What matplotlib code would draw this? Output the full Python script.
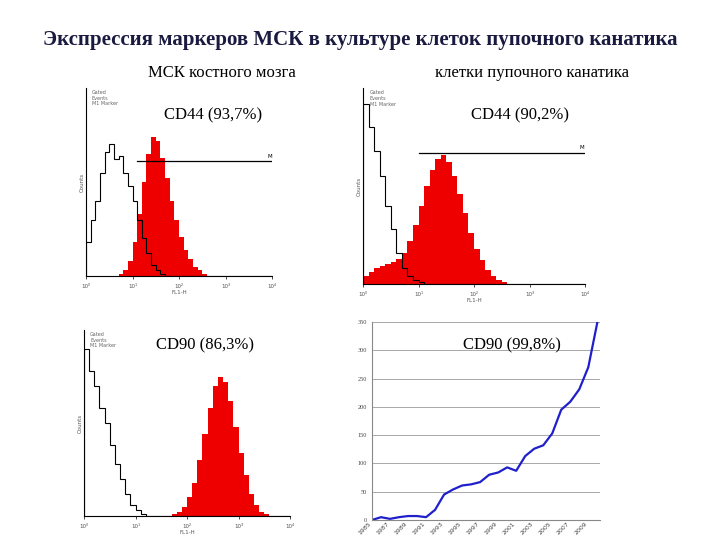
import matplotlib
matplotlib.use("Agg")
import matplotlib.pyplot as plt
import numpy as np

plt.rcParams["font.family"] = ["Liberation Serif", "DejaVu Serif"]

W, H = 720, 540

# histograms: bin heights per 0.1 decade over 10^0 .. 10^4 (40 bins)
tl_ctrl = [18, 30, 40, 55, 66, 70, 62, 64, 55, 48, 40, 30, 20, 12, 6, 3, 1, 0, 0, 0,
           0, 0, 0, 0, 0, 0, 0, 0, 0, 0, 0, 0, 0, 0, 0, 0, 0, 0, 0, 0]
tl_cd44 = [0, 0, 0, 0, 0, 0, 0, 1, 3, 8, 18, 33, 50, 65, 74, 72, 63, 52, 40, 30,
           21, 14, 9, 5, 3, 1, 0, 0, 0, 0, 0, 0, 0, 0, 0, 0, 0, 0, 0, 0]
tr_ctrl = [92, 80, 68, 55, 40, 28, 16, 8, 4, 2, 1, 0, 0, 0, 0, 0, 0, 0, 0, 0,
           0, 0, 0, 0, 0, 0, 0, 0, 0, 0, 0, 0, 0, 0, 0, 0, 0, 0, 0, 0]
tr_cd44 = [4, 6, 8, 9, 10, 11, 13, 16, 22, 30, 40, 50, 58, 64, 66, 62, 55, 46, 36, 26,
           18, 12, 7, 4, 2, 1, 0, 0, 0, 0, 0, 0, 0, 0, 0, 0, 0, 0, 0, 0]
bl_ctrl = [90, 78, 70, 58, 50, 38, 28, 20, 12, 6, 3, 1, 0, 0, 0, 0, 0, 0, 0, 0,
           0, 0, 0, 0, 0, 0, 0, 0, 0, 0, 0, 0, 0, 0, 0, 0, 0, 0, 0, 0]
bl_cd90 = [0, 0, 0, 0, 0, 0, 0, 0, 0, 0, 0, 0, 0, 0, 0, 0, 0, 1, 2, 5,
           10, 18, 30, 44, 58, 70, 75, 72, 62, 48, 34, 22, 12, 6, 2, 1, 0, 0, 0, 0]

# line chart
years = list(range(1985, 2011))
counts = [0, 5, 2, 5, 7, 7, 5, 18, 45, 54, 61, 63, 67, 80, 84, 93, 87, 113, 126, 132,
          153, 195, 209, 231, 270, 349]

fig = plt.figure(figsize=(W / 100, H / 100), dpi=100)
fig.patch.set_facecolor("white")


def px_axes(x0, y0, x1, y1):
    return fig.add_axes([x0 / W, 1 - y1 / H, (x1 - x0) / W, (y1 - y0) / H])


fig.text(360 / W, 1 - 40 / H, "Экспрессия маркеров МСК в культуре клеток пупочного канатика",
         ha="center", va="center", fontsize=15, fontweight="bold", color="#1a1a40")
fig.text(222 / W, 1 - 73 / H, "МСК костного мозга", ha="center", va="center", fontsize=12)
fig.text(532 / W, 1 - 73 / H, "клетки пупочного канатика", ha="center", va="center", fontsize=12)


def hist_panel(box, ctrl, pos, label, lab_xy, gate_y=None, gate_x=None):
    ax = px_axes(*box)
    edges = np.linspace(0, 4, len(ctrl) + 1)
    ax.stairs(pos, edges, fill=True, color="#ee0000")
    ax.stairs(ctrl, edges, color="black", lw=0.8)
    ax.set_xlim(0, 4)
    ax.set_ylim(0, 100)
    for s in ["top", "right"]:
        ax.spines[s].set_visible(False)
    for s in ["left", "bottom"]:
        ax.spines[s].set_linewidth(0.8)
    ax.set_xticks([0, 1, 2, 3, 4])
    ax.set_xticklabels(["10⁰", "10¹", "10²", "10³", "10⁴"], fontsize=4, color="#555555",
                       family="DejaVu Sans")
    ax.set_yticks([])
    ax.tick_params(length=2, width=0.5)
    ax.set_xlabel("FL1-H", fontsize=4, color="#555555", family="DejaVu Sans", labelpad=1)
    ax.set_ylabel("Counts", fontsize=4, color="#555555", family="DejaVu Sans", labelpad=1)
    ax.text(0.03, 0.99, "Gated\nEvents\nM1 Marker", transform=ax.transAxes, fontsize=3.5,
            va="top", color="#666666", family="DejaVu Sans")
    if gate_y is not None:
        ax.plot(gate_x, [gate_y, gate_y], color="black", lw=0.9)
        ax.text(gate_x[1] - 0.1, gate_y + 2, "M", fontsize=4, family="DejaVu Sans")
    fig.text(lab_xy[0] / W, 1 - lab_xy[1] / H, label, ha="center", va="center", fontsize=12)
    return ax


hist_panel((86, 88, 272, 276), tl_ctrl, tl_cd44, "CD44 (93,7%)", (213, 115), 61, (1.1, 4))
hist_panel((363, 88, 585, 284), tr_ctrl, tr_cd44, "CD44 (90,2%)", (520, 115), 67, (1.0, 4))
hist_panel((84, 330, 290, 516), bl_ctrl, bl_cd90, "CD90 (86,3%)", (205, 345))

ax = px_axes(372, 322, 600, 520)
ax.plot(years, counts, color="#1f1fcc", lw=1.6)
ax.set_xlim(1985, 2010.3)
ax.set_ylim(0, 350)
ax.set_yticks(range(0, 351, 50))
ax.set_xticks(range(1985, 2010, 2))
ax.set_xticklabels([str(y) for y in range(1985, 2010, 2)], rotation=45, ha="right",
                   fontsize=4.5, color="#444444", family="DejaVu Sans")
ax.tick_params(axis="y", labelsize=4.5, labelcolor="#444444", length=0)
ax.tick_params(axis="x", length=0, pad=1)
ax.grid(axis="y", color="#999999", lw=0.6)
for s in ["top", "right"]:
    ax.spines[s].set_visible(False)
for s in ["left", "bottom"]:
    ax.spines[s].set_color("#888888")
fig.text(512 / W, 1 - 345 / H, "CD90 (99,8%)", ha="center", va="center", fontsize=12)

fig.savefig("out.png", dpi=100, facecolor="white")
